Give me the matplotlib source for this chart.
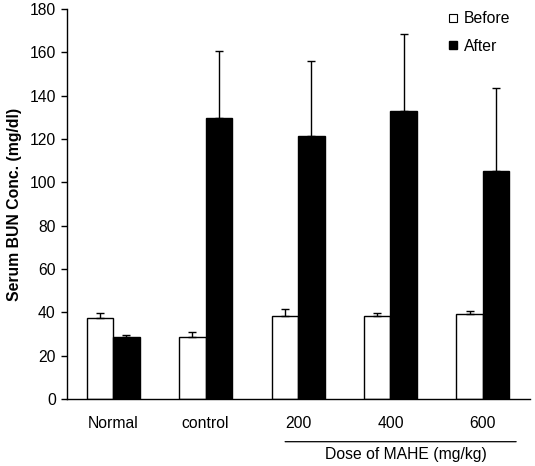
import matplotlib

matplotlib.use("Agg")

import matplotlib.pyplot as plt
import numpy as np
from matplotlib.lines import Line2D

groups = ["Normal", "control", "200", "400", "600"]
before = [37.4, 28.8, 38.3, 38.3, 39.1]
before_err = [2.1, 2.0, 3.1, 1.2, 1.4]
after = [28.5, 129.5, 121.4, 133.0, 105.2]
after_err = [1.0, 31.3, 34.4, 35.3, 38.2]

plt.rcParams["font.family"] = ["Liberation Sans", "DejaVu Sans"]
plt.rcParams["font.size"] = 11.3

fig = plt.figure(figsize=(5.35, 4.66), dpi=100)
ax = fig.add_axes([0.1252, 0.1438, 0.8655, 0.8369])

x = np.arange(len(groups))
w = 0.287
ax.bar(x - w / 2, before, w, color="white", edgecolor="black", linewidth=1.0,
       yerr=[np.zeros(len(groups)), before_err], capsize=2.8,
       error_kw=dict(elinewidth=1.0, capthick=1.0, ecolor="black"))
ax.bar(x + w / 2, after, w, color="black", edgecolor="black", linewidth=1.0,
       yerr=[np.zeros(len(groups)), after_err], capsize=2.8,
       error_kw=dict(elinewidth=1.0, capthick=1.0, ecolor="black"))

ax.set_xlim(-0.5, 4.51)
ax.set_ylim(0, 180)
ax.set_yticks(np.arange(0, 181, 20))
ax.set_xticks(x)
ax.set_xticklabels(groups)
ax.tick_params(axis="x", length=0, pad=12)
ax.tick_params(axis="y", length=4, width=1, direction="out", pad=4)
for s in ["top", "right"]:
    ax.spines[s].set_visible(False)
for s in ["left", "bottom"]:
    ax.spines[s].set_linewidth(1.0)

ax.set_ylabel("Serum BUN Conc. (mg/dl)", fontweight="bold", labelpad=5)

# dose bracket
ax.annotate("", xy=(1.83, -0.1095), xytext=(4.39, -0.1095),
            xycoords=("data", "axes fraction"),
            arrowprops=dict(arrowstyle="-", color="black", lw=0.9),
            annotation_clip=False)
ax.text(3.17, -0.1436, "Dose of MAHE (mg/kg)", transform=ax.get_xaxis_transform(),
        ha="center", va="center")

handles = [
    Line2D([], [], marker="s", linestyle="none", markersize=6,
           markerfacecolor="white", markeredgecolor="black", markeredgewidth=0.8),
    Line2D([], [], marker="s", linestyle="none", markersize=6,
           markerfacecolor="black", markeredgecolor="black"),
]
ax.legend(handles, ["Before", "After"], loc="upper left",
          bbox_to_anchor=(0.81, 1.01), frameon=False, handlelength=0.6,
          handletextpad=0.4, labelspacing=0.8, borderaxespad=0.0)

fig.savefig("out.png", dpi=100)
